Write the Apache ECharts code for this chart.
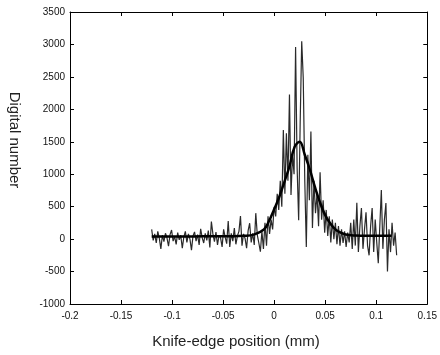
<!DOCTYPE html>
<html>
<head>
<meta charset="utf-8">
<script src="https://cdn.jsdelivr.net/npm/echarts@6/dist/echarts.min.js"></script>
<style>
  html, body { margin: 0; padding: 0; background: #fff; }
  #chart { width: 440px; height: 355px; }
</style>
</head>
<body>
<div id="chart"></div>
<script>
// Raw knife-edge scan: samples every 0.0015 mm starting at -0.12 mm
const rawStart = -0.12;
const rawStep = 0.0015;
const rawCounts = [
  150, -20, 80, -60, 120, 10, -150, 60, -40, 90,
  20, -110, 70, 140, -30, 40, -80, 100, -10, 60,
  -140, 30, 120, -50, 80, 0, -170, 50, 110, -30,
  70, -90, 160, 20, -60, 90, -20, 130, -130, 270,
  80, -40, 110, -90, 60, 20, -120, 150, 30, -70,
  280, -120, 90, -30, 170, -80, 50, 120, 354, -100,
  80, 10, -140, 130, 245, -50, 90, -90, 400, 60,
  -60, -195, 120, -150, 250, -100, 350, 80, 300, 150,
  500, 350, 700, 450, 900, 500, 1680, 700, 1630, 900,
  2230, 680, 1300, 1000, 2960, 1100, 290, 1800, 3050, 2480,
  900, -120, 1300, 600, 1660, 170, 900, 400, 700, 200,
  1030, 300, 600, 100, 450, 50, 350, -50, 300, 0,
  250, -80, 200, -100, 150, -60, 120, -120, 100, -50,
  250, -150, 300, -100, 560, -200, 200, 480, -150, 150,
  415, -100, -250, 200, 480, -200, 300, -50, -370, 200,
  755, -150, 300, 555, -500, 150, -200, 250, -100, 100,
  -250
];

// Smoothed profile
const fitPos = [-0.12, -0.1, -0.08, -0.06, -0.04, -0.03, -0.02, -0.01, -0.005, 0,
  0.005, 0.01, 0.015, 0.02, 0.025, 0.03, 0.035, 0.04, 0.045, 0.05,
  0.055, 0.06, 0.065, 0.07, 0.08, 0.09, 0.1, 0.115];
const fitCounts = [40, 40, 40, 45, 45, 50, 70, 150, 280, 460,
  650, 880, 1120, 1420, 1500, 1300, 1070, 800, 560, 370,
  240, 150, 100, 70, 55, 50, 50, 50];

// Tick labels
const xTickLabels = ['-0.2', '-0.15', '-0.1', '-0.05', '0', '0.05', '0.1', '0.15'];
const yTickLabels = ['-1000', '-500', '0', '500', '1000', '1500', '2000', '2500', '3000', '3500'];

const rawData = rawCounts.map((v, i) => [rawStart + i * rawStep, v]);
const fitData = fitPos.map((p, i) => [p, fitCounts[i]]);

const labelFont = { fontFamily: 'Liberation Sans, Arial, sans-serif', fontSize: 10, color: '#111' };
const axisLineStyle = { show: true, onZero: false, lineStyle: { color: '#000', width: 1 } };
const tickStyle = { show: true, inside: true, length: 4, lineStyle: { color: '#000', width: 1 } };

const xMin = -0.2, xMax = 0.15, xInt = 0.05;
const yMin = -1000, yMax = 3500, yInt = 500;

const xLabelFmt = v => xTickLabels[Math.round((v - xMin) / xInt)] || '';
const yLabelFmt = v => yTickLabels[Math.round((v - yMin) / yInt)] || '';

const chart = echarts.init(document.getElementById('chart'), null, { renderer: 'canvas' });
chart.setOption({
  backgroundColor: '#fff',
  animation: false,
  grid: { left: 70, right: 11, top: 12, bottom: 51, containLabel: false },
  xAxis: [
    {
      type: 'value', min: xMin, max: xMax, interval: xInt, position: 'bottom',
      axisLine: axisLineStyle, axisTick: tickStyle, splitLine: { show: false },
      axisLabel: Object.assign({ margin: 7, formatter: xLabelFmt }, labelFont)
    },
    {
      type: 'value', min: xMin, max: xMax, interval: xInt, position: 'top',
      axisLine: axisLineStyle, axisTick: tickStyle, splitLine: { show: false },
      axisLabel: { show: false }
    }
  ],
  yAxis: [
    {
      type: 'value', min: yMin, max: yMax, interval: yInt, position: 'left',
      axisLine: axisLineStyle, axisTick: tickStyle, splitLine: { show: false },
      axisLabel: Object.assign({ margin: 5, formatter: yLabelFmt }, labelFont)
    },
    {
      type: 'value', min: yMin, max: yMax, interval: yInt, position: 'right',
      axisLine: axisLineStyle, axisTick: tickStyle, splitLine: { show: false },
      axisLabel: { show: false }
    }
  ],
  series: [
    {
      name: 'raw', type: 'line', data: rawData, showSymbol: false,
      lineStyle: { color: '#2a2a2a', width: 1.2 }, z: 2
    },
    {
      name: 'fit', type: 'line', data: fitData, showSymbol: false, smooth: 0.4,
      lineStyle: { color: '#000', width: 2.5 }, z: 3
    }
  ],
  graphic: [
    {
      type: 'text', x: 14, y: 140, rotation: -Math.PI / 2,
      style: {
        text: 'Digital number', fontFamily: 'Liberation Sans, Arial, sans-serif',
        fontSize: 15, fill: '#222', align: 'center', verticalAlign: 'middle'
      }
    },
    {
      type: 'text', x: 236, y: 342,
      style: {
        text: 'Knife-edge position (mm)', fontFamily: 'Liberation Sans, Arial, sans-serif',
        fontSize: 15, fill: '#222', align: 'center', verticalAlign: 'middle'
      }
    }
  ]
});
</script>
</body>
</html>
